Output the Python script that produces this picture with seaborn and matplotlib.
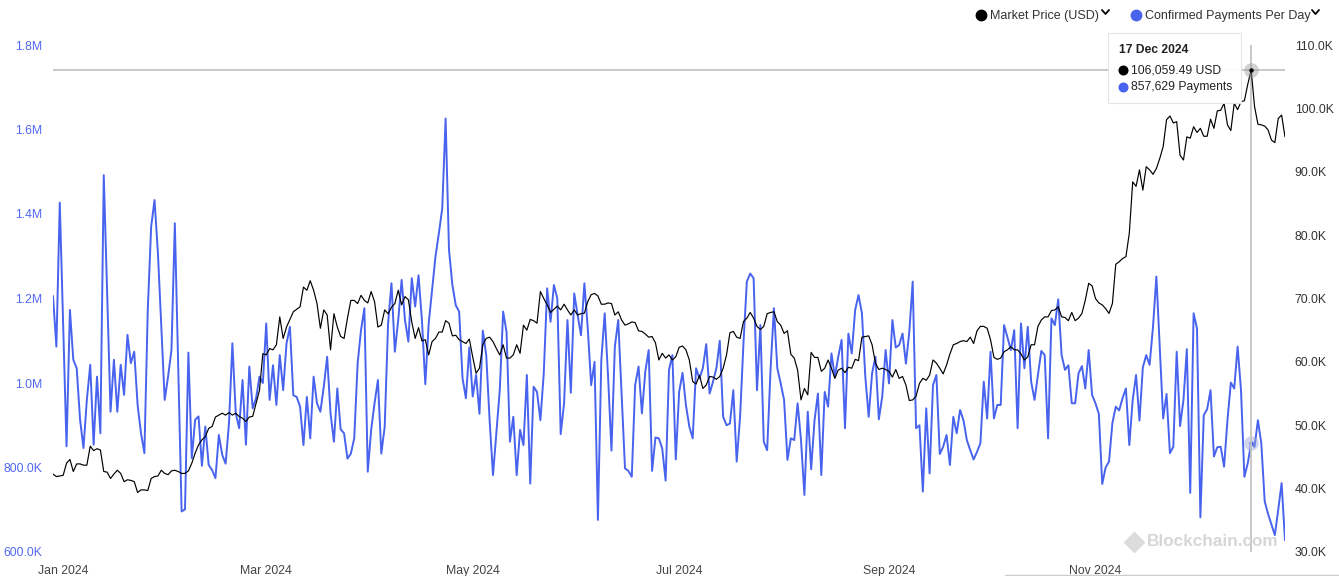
import numpy as np
import pandas as pd
import matplotlib
matplotlib.use("Agg")
import matplotlib.pyplot as plt
import matplotlib.dates as mdates
from matplotlib.lines import Line2D
from matplotlib.patches import FancyBboxPatch
import seaborn as sns

# ---------------- data ----------------
start_date = "2023-12-29"

# Confirmed payments per day (millions)
payments_m = [
    1.206, 1.086, 1.427, 1.14, 0.85, 1.173, 1.055, 1.035, 0.913, 0.846,
    0.96, 1.043, 0.854, 1.015, 0.881, 1.492, 1.212, 0.932, 1.055, 0.932,
    1.043, 0.972, 1.114, 1.047, 1.074, 0.948, 0.881, 0.834, 1.173, 1.37,
    1.433, 1.307, 1.134, 0.96, 1.015, 1.078, 1.378, 1.039, 0.696, 0.701,
    1.072, 0.822, 0.913, 0.921, 0.804, 0.897, 0.806, 0.794, 0.775, 0.877,
    0.83, 0.809, 0.905, 1.094, 0.928, 0.893, 1.007, 0.854, 1.039, 0.94,
    0.964, 1.015,
    1.00, 1.141, 0.960, 1.042, 0.948, 1.066, 0.983, 1.094, 1.133, 0.971,
    0.967, 0.944, 0.853, 0.967, 0.869, 1.015, 0.952, 0.932, 0.991, 1.062,
    0.928, 0.861, 0.987, 0.890, 0.881, 0.821, 0.833, 0.869, 1.046, 1.125,
    1.177, 0.790, 0.889, 0.952, 1.007, 0.833, 0.896, 1.141, 1.236, 1.074,
    1.149, 1.244, 1.149, 1.098, 1.248, 1.181, 1.255, 1.149, 0.997, 1.141,
    1.220, 1.299, 1.354, 1.413, 1.626, 1.315, 1.232, 1.184, 1.169, 1.011,
    0.964,
    1.084, 0.968, 1.019, 0.927, 1.124, 1.066, 0.912, 0.782, 0.881, 0.983,
    1.169, 1.121, 0.861, 0.920, 0.782, 0.889, 0.853, 1.019, 0.762, 0.991,
    0.979, 0.912, 1.023, 1.224, 1.145, 1.232, 1.200, 0.879, 0.952, 1.149,
    0.977, 1.212, 1.161, 1.113, 1.236, 1.129, 0.995, 1.050, 0.676, 1.054,
    1.165, 1.015, 0.840, 1.086, 1.149, 0.975, 0.798, 0.792, 0.778, 0.995,
    1.039, 0.928, 1.027, 1.078, 0.792, 0.871, 0.869, 0.845, 0.769, 1.031,
    1.066, 0.819, 0.979, 1.024, 0.948, 0.897, 0.869, 1.035, 1.011, 1.035,
    1.092, 0.975, 1.003, 1.035, 1.100, 0.920, 0.900, 0.904, 0.983, 0.814,
    0.920, 1.094, 1.240, 1.259, 1.248, 0.983, 1.137, 0.861, 0.841, 1.031,
    1.177, 1.035, 0.999, 0.960, 0.818, 0.869, 0.865, 0.952, 0.865, 0.735,
    0.932, 0.796, 0.912, 0.975, 0.782, 0.979, 0.944, 1.070, 1.015, 1.062,
    1.102, 0.893, 1.117, 1.070, 1.173, 1.208, 1.165, 1.015, 0.920, 1.023,
    1.062,
    0.914, 0.968, 1.078, 0.999, 1.149, 1.084, 1.090, 1.117, 1.046, 1.121,
    1.240, 0.893, 0.900, 0.743, 0.940, 0.786, 0.995, 1.019, 0.832, 0.849,
    0.877, 0.806, 0.920, 0.881, 0.936, 0.912, 0.865, 0.841, 0.819, 0.837,
    0.857, 1.003, 0.916, 1.074, 0.916, 0.948, 0.948, 1.137, 1.108, 1.078,
    1.125, 0.893, 1.141, 1.035, 1.133, 1.003, 0.960, 1.019, 1.076, 1.066,
    0.869, 1.153, 1.137, 1.198, 1.066, 1.031, 1.042, 0.952, 0.952, 1.023,
    1.040, 0.987, 1.078, 0.972, 0.952, 0.927, 0.761, 0.800, 0.814, 0.905,
    0.944, 0.935, 0.964, 0.987, 0.853, 0.960, 1.019, 0.911, 1.037, 1.066,
    1.043, 1.133, 1.252, 1.086, 0.916, 0.974, 0.834, 0.849, 1.074, 0.898,
    0.960, 1.080, 0.740, 1.165, 1.129, 0.682, 0.924, 0.938, 0.983, 0.826,
    0.848, 0.849, 0.802, 0.912, 1.001, 0.987, 1.086, 0.983, 0.778, 0.810,
    0.857629, 0.849, 0.912, 0.857, 0.72, 0.69, 0.665, 0.64, 0.70, 0.763,
    0.628,
]

# Market price (thousand USD)
price_k = [
    42.3, 41.9, 42.0, 42.1, 44.0, 44.6, 42.7, 43.9, 43.9, 43.7,
    43.7, 46.7, 46.0, 46.3, 46.1, 42.7, 42.6, 41.6, 42.3, 42.9,
    42.4, 41.1, 41.4, 41.3, 41.1, 39.4, 39.8, 39.8, 39.7, 41.6,
    41.9, 42.0, 42.9, 42.4, 42.2, 42.8, 42.9, 42.7, 42.4, 42.4,
    42.8, 44.0, 45.6, 46.9, 47.7, 48.2, 49.5, 49.8, 51.3, 51.6,
    51.9, 51.6, 52.0, 51.6, 51.9, 51.4, 51.1, 50.6, 51.3, 51.4,
    53.45, 55.5,
    61.3, 61.1, 62.1, 61.9, 62.7, 67.1, 63.7, 65.5, 66.7, 67.9,
    68.3, 68.7, 71.8, 71.3, 72.8, 71.3, 69.2, 65.3, 68.2, 67.4,
    61.9, 67.6, 65.5, 64.0, 63.7, 66.9, 69.7, 69.7, 69.2, 70.5,
    69.7, 69.3, 71.1, 69.5, 65.5, 65.8, 68.2, 67.6, 68.6, 69.2,
    71.3, 69.0, 70.3, 69.8, 66.3, 63.7, 65.4, 63.3, 63.5, 61.1,
    63.2, 63.7, 64.7, 64.7, 66.5, 66.1, 64.1, 64.2, 63.5, 63.2,
    62.9,
    63.6, 60.8, 58.2, 59.0, 62.7, 63.7, 63.9, 63.2, 62.1, 61.1,
    62.7, 60.6, 60.6, 61.1, 62.7, 61.35, 65.8, 65.0, 66.7, 66.5,
    66.1, 71.1, 70.0, 69.0, 67.8, 68.3, 68.8, 68.2, 69.1, 68.2,
    67.4, 68.2, 67.4, 67.6, 67.7, 69.5, 70.6, 70.8, 70.4, 69.1,
    69.1, 69.3, 69.2, 67.4, 67.9, 66.6, 65.8, 66.0, 66.3, 66.2,
    64.9, 64.8, 64.4, 63.9, 64.0, 63.0, 60.3, 61.35, 60.6, 61.1,
    60.3, 60.8, 62.3, 62.5, 61.9, 60.3, 56.9, 56.5, 57.9, 55.8,
    56.35, 57.7, 57.6, 57.25, 57.7, 59.0, 61.1, 64.6, 64.8, 63.9,
    63.7, 66.35, 66.9, 67.8, 66.9, 65.6, 65.1, 65.6, 67.6, 67.8,
    67.9, 66.35, 65.8, 64.5, 64.9, 61.2, 60.6, 58.7, 54.0, 55.8,
    54.8, 61.5, 60.7, 60.7, 58.5, 59.0, 60.3, 59.0, 57.4, 58.7,
    59.0, 58.3, 59.15, 59.0, 60.4, 60.2, 63.9, 64.0, 64.1, 62.7,
    59.8,
    58.8, 59.0, 58.8, 58.5, 57.6, 58.8, 57.4, 57.7, 56.35, 53.9,
    54.0, 54.6, 56.6, 57.4, 57.1, 57.9, 60.3, 59.8, 59.0, 58.1,
    59.5, 61.25, 62.7, 62.9, 63.2, 63.35, 63.2, 63.9, 62.9, 64.9,
    65.6, 65.6, 65.3, 63.5, 60.7, 60.4, 60.6, 61.6, 61.9, 62.4,
    61.9, 61.9, 61.25, 60.3, 60.8, 62.7, 62.7, 65.6, 66.6, 67.1,
    67.1, 68.1, 68.2, 68.7, 67.1, 67.0, 66.5, 67.8, 66.5, 66.9,
    67.65, 69.75, 72.4, 72.0, 70.0, 69.3, 69.0, 68.4, 67.65, 69.2,
    75.4, 75.8, 76.3, 76.6, 80.3, 88.4, 87.7, 90.3, 87.1, 90.8,
    90.3, 89.6, 90.5, 92.1, 93.95, 98.2, 98.8, 97.7, 97.9, 92.6,
    91.85, 95.5, 95.3, 97.1, 96.2, 96.85, 95.6, 95.6, 98.3, 96.85,
    99.6, 99.7, 100.8, 97.4, 96.5, 100.8, 99.8, 101.05, 101.2, 103.8,
    106.05949, 100.3, 97.5, 97.4, 97.2, 96.6, 95.0, 94.6, 98.4, 98.95,
    95.5,
]

left_ticks = [600000, 800000, 1000000, 1200000, 1400000, 1600000, 1800000]
left_labels = ["600.0K", "800.0K", "1.0M", "1.2M", "1.4M", "1.6M", "1.8M"]
right_ticks = [30000, 40000, 50000, 60000, 70000, 80000, 90000, 100000, 110000]
right_labels = ["30.0K", "40.0K", "50.0K", "60.0K", "70.0K", "80.0K",
                "90.0K", "100.0K", "110.0K"]
x_tick_months = [1, 3, 5, 7, 9, 11]

legend_labels = ["Market Price (USD)", "Confirmed Payments Per Day"]
hover_date = "2024-12-17"
hover_title = "17 Dec 2024"
hover_price_text = "106,059.49 USD"
hover_pay_text = "857,629 Payments"
watermark = "Blockchain.com"

# ---------------- style ----------------
BLUE = "#4863EE"
BLUE_LBL = "#5268F0"
W, H = 1339, 576

sns.set_theme(style="white")
plt.rcParams["font.family"] = ["Liberation Sans", "DejaVu Sans"]

dates = pd.date_range(start_date, periods=len(price_k), freq="D")
df = pd.DataFrame({
    "date": dates,
    "payments": np.array(payments_m) * 1e6,
    "price": np.array(price_k) * 1e3,
})

fig = plt.figure(figsize=(W / 100, H / 100), dpi=100, facecolor="white")
ax = fig.add_axes([53 / W, (H - 552) / H, (1285 - 53) / W, (552 - 45) / H])

sns.lineplot(data=df, x="date", y="payments", ax=ax, color=BLUE, linewidth=1.4)
ax2 = ax.twinx()
sns.lineplot(data=df, x="date", y="price", ax=ax2, color="black", linewidth=0.85)

ax.set_xlim(dates[0], dates[-1])
ax.set_ylim(600000, 1800000)
ax2.set_ylim(30000, 110000)

for a in (ax, ax2):
    for s in a.spines.values():
        s.set_visible(False)
    a.set_xlabel("")
    a.set_ylabel("")
    a.grid(False)

ax.set_yticks(left_ticks)
ax.set_yticklabels(left_labels)
ax.tick_params(axis="y", length=0, pad=7.9, labelsize=8.8, labelcolor=BLUE_LBL)
ax2.set_yticks(right_ticks)
ax2.set_yticklabels(right_labels)
ax2.tick_params(axis="y", length=0, pad=7.0, labelsize=8.8, labelcolor="#333333")

ax.xaxis.set_major_locator(mdates.MonthLocator(bymonth=x_tick_months))
ax.xaxis.set_major_formatter(mdates.DateFormatter("%b %Y"))
ax.tick_params(axis="x", length=0, pad=9.3, labelsize=8.8, labelcolor="#444444")
ax2.tick_params(axis="x", labelbottom=False, length=0)

# ---------------- hover crosshair ----------------
hrow = df[df["date"] == pd.Timestamp(hover_date)].iloc[0]
hx = hrow["date"]
ax2.axhline(hrow["price"], color="#c4c4c4", linewidth=1.3, zorder=0.5)
ax2.axvline(hx, color="#c4c4c4", linewidth=1.3, zorder=0.5)
ax2.scatter([hx], [hrow["price"]], s=110, color="#9a9a9a", alpha=0.45,
            zorder=5, linewidths=0)
ax2.scatter([hx], [hrow["price"]], s=10, color="black", zorder=6, linewidths=0)
ax.scatter([hx], [hrow["payments"]], s=110, color="#9aa3d8", alpha=0.45,
           zorder=5, linewidths=0)
ax.scatter([hx], [hrow["payments"]], s=10, color=BLUE, zorder=6, linewidths=0)


def fx(px):
    return px / W


def fy(py):
    return (H - py) / H


# tooltip box
tip = FancyBboxPatch((fx(1108), fy(103)), 133 / W, 70 / H,
                     boxstyle="square,pad=0", transform=fig.transFigure,
                     facecolor="white", edgecolor="#e4e4e4", linewidth=0.8,
                     alpha=0.95, zorder=10)
fig.patches.append(tip)
fig.text(fx(1119), fy(53), hover_title, fontsize=8.7, fontweight="bold",
         color="#222222", va="baseline", ha="left", zorder=11)
fig.add_artist(Line2D([fx(1123)], [fy(69.5)], marker="o", markersize=6.2,
                      color="black", linestyle="none", transform=fig.transFigure,
                      zorder=11))
fig.text(fx(1131), fy(73.5), hover_price_text, fontsize=8.7, color="#222222",
         va="baseline", ha="left", zorder=11)
fig.add_artist(Line2D([fx(1123)], [fy(86.5)], marker="o", markersize=6.2,
                      color=BLUE, linestyle="none", transform=fig.transFigure,
                      zorder=11))
fig.text(fx(1131), fy(90), hover_pay_text, fontsize=8.7, color="#222222",
         va="baseline", ha="left", zorder=11)

# ---------------- legend ----------------
fig.add_artist(Line2D([fx(981)], [fy(15)], marker="o", markersize=7.5,
                      color="black", linestyle="none", transform=fig.transFigure))
fig.text(fx(990), fy(19.5), legend_labels[0], fontsize=9, color="#333333",
         va="baseline", ha="left")
fig.add_artist(Line2D([fx(1102), fx(1105.5), fx(1109)], [fy(10), fy(14), fy(10)],
                      color="black", linewidth=1.3, transform=fig.transFigure))
fig.add_artist(Line2D([fx(1136)], [fy(15)], marker="o", markersize=7.5,
                      color=BLUE, linestyle="none", transform=fig.transFigure))
fig.text(fx(1145), fy(19.5), legend_labels[1], fontsize=9, color="#333333",
         va="baseline", ha="left")
fig.add_artist(Line2D([fx(1312), fx(1315.5), fx(1319)], [fy(10), fy(14), fy(10)],
                      color="black", linewidth=1.3, transform=fig.transFigure))

# ---------------- watermark ----------------
fig.add_artist(Line2D([fx(1134)], [fy(542)], marker="D", markersize=10,
                      color="#dcdcdc", linestyle="none", transform=fig.transFigure,
                      zorder=3))
fig.text(fx(1147), fy(542), watermark, fontsize=12.3, fontweight="bold",
         color="#d6d6d6", va="center", ha="left", zorder=3)

# bottom navigator border
fig.add_artist(Line2D([fx(1005), fx(1339)], [fy(575), fy(575)], color="#cccccc",
                      linewidth=1.0, transform=fig.transFigure))

fig.savefig("out.png", dpi=100, facecolor="white")
